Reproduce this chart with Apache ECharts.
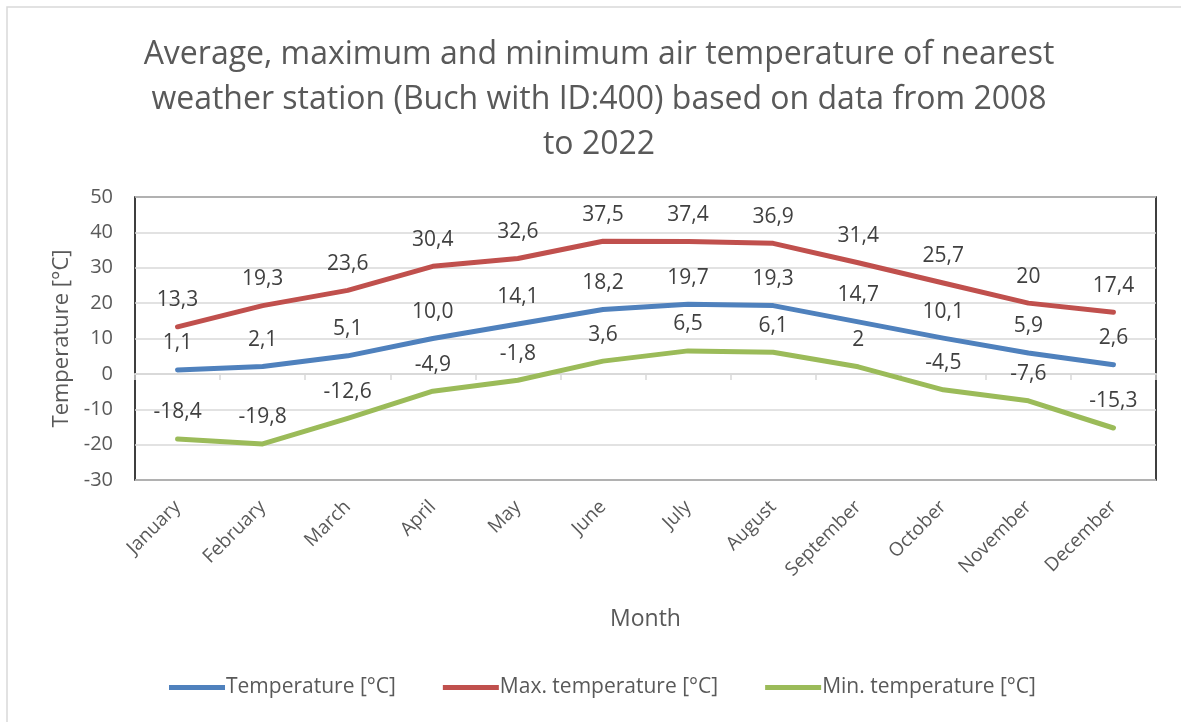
<!DOCTYPE html>
<html>
<head>
<meta charset="utf-8">
<script src="https://cdn.jsdelivr.net/npm/echarts@6/dist/echarts.min.js"></script>
<style>
  html, body { margin: 0; padding: 0; background: #ffffff; }
  #chart { width: 1181px; height: 722px; }
</style>
</head>
<body>
<div id="chart"></div>
<script>
// Monthly air temperature statistics, Buch (ID:400), 2008–2022
const months = ['January', 'February', 'March', 'April', 'May', 'June',
                'July', 'August', 'September', 'October', 'November', 'December'];
const avgTemp = [1.1, 2.1, 5.1, 10.0, 14.1, 18.2, 19.7, 19.3, 14.7, 10.1, 5.9, 2.6];
const maxTemp = [13.3, 19.3, 23.6, 30.4, 32.6, 37.5, 37.4, 36.9, 31.4, 25.7, 20, 17.4];
const minTemp = [-18.4, -19.8, -12.6, -4.9, -1.8, 3.6, 6.5, 6.1, 2, -4.5, -7.6, -15.3];
const seriesNames = ['Temperature [°C]', 'Max. temperature [°C]', 'Min. temperature [°C]'];
const yTicks = { min: -30, max: 50, interval: 10 };

const FONT = '"Open Sans", "DejaVu Sans", sans-serif';
const TEXT = '#595959';
const LABEL = '#404040';
const GRID = '#d9d9d9';

// decimal comma; the average series keeps one fixed decimal
const fmtFixed = p => p.value.toFixed(1).replace('.', ',');
const fmtGeneral = p => String(p.value).replace('.', ',');

function lineSeries(name, data, color, formatter) {
  return {
    name: name,
    type: 'line',
    data: data,
    symbol: 'circle',
    symbolSize: 2,
    itemStyle: { color: color },
    lineStyle: { color: color, width: 5, cap: 'round', join: 'round' },
    label: {
      show: true,
      position: 'top',
      distance: 15,
      formatter: formatter,
      fontFamily: FONT,
      fontSize: 21,
      color: LABEL
    },
    emphasis: { disabled: true },
    animation: false
  };
}

const chart = echarts.init(document.getElementById('chart'), null, { renderer: 'canvas' });
chart.setOption({
  backgroundColor: '#ffffff',
  graphic: [{
    type: 'rect',
    shape: { x: 7, y: 7, width: 1200, height: 800 },
    style: { fill: 'none', stroke: GRID, lineWidth: 1.5 },
    silent: true
  }],
  title: {
    text: 'Average, maximum and minimum air temperature of nearest\nweather station (Buch with ID:400) based on data from 2008\nto 2022',
    left: 594,
    textAlign: 'center',
    top: 27,
    textStyle: {
      fontFamily: FONT,
      fontSize: 32,
      fontWeight: 'normal',
      color: TEXT,
      lineHeight: 45
    }
  },
  legend: {
    data: seriesNames,
    bottom: 19,
    left: 164,
    icon: 'rect',
    itemWidth: 56,
    itemHeight: 5,
    itemGap: 47,
    textStyle: { fontFamily: FONT, fontSize: 21, color: TEXT, padding: [0, 0, 0, -4] },
    selectedMode: false
  },
  grid: {
    left: 135,
    right: 25,
    top: 197,
    bottom: 242,
    show: true,
    borderColor: '#000000',
    borderWidth: 1.5,
    containLabel: false
  },
  xAxis: [{
    type: 'category',
    data: months,
    boundaryGap: true,
    position: 'bottom',
    name: 'Month',
    nameLocation: 'middle',
    nameGap: 128,
    nameTextStyle: { fontFamily: FONT, fontSize: 23, color: TEXT },
    axisLine: { show: false, onZero: false },
    axisTick: { show: false },
    axisLabel: {
      rotate: 45,
      margin: 24,
      fontFamily: FONT,
      fontSize: 19,
      color: TEXT
    },
    splitLine: { show: false }
  }, {
    // zero baseline with outward ticks between categories
    type: 'category',
    data: months,
    boundaryGap: true,
    position: 'bottom',
    axisLine: { show: true, onZero: true, lineStyle: { color: GRID, width: 2 } },
    axisTick: { show: true, length: 6, lineStyle: { color: GRID, width: 1.5 } },
    axisLabel: { show: false },
    splitLine: { show: false }
  }],
  yAxis: {
    type: 'value',
    min: yTicks.min,
    max: yTicks.max,
    interval: yTicks.interval,
    name: 'Temperature [°C]',
    nameLocation: 'middle',
    nameGap: 62,
    nameTextStyle: { fontFamily: FONT, fontSize: 22, color: TEXT },
    axisLine: { show: false },
    axisTick: { show: false },
    axisLabel: { margin: 22, fontFamily: FONT, fontSize: 20, color: TEXT },
    splitLine: { show: true, lineStyle: { color: GRID, width: 1.5 } }
  },
  series: [
    lineSeries(seriesNames[0], avgTemp, '#4f81bd', fmtFixed),
    lineSeries(seriesNames[1], maxTemp, '#c0504d', fmtGeneral),
    lineSeries(seriesNames[2], minTemp, '#9bbb59', fmtGeneral)
  ]
});
</script>
</body>
</html>
